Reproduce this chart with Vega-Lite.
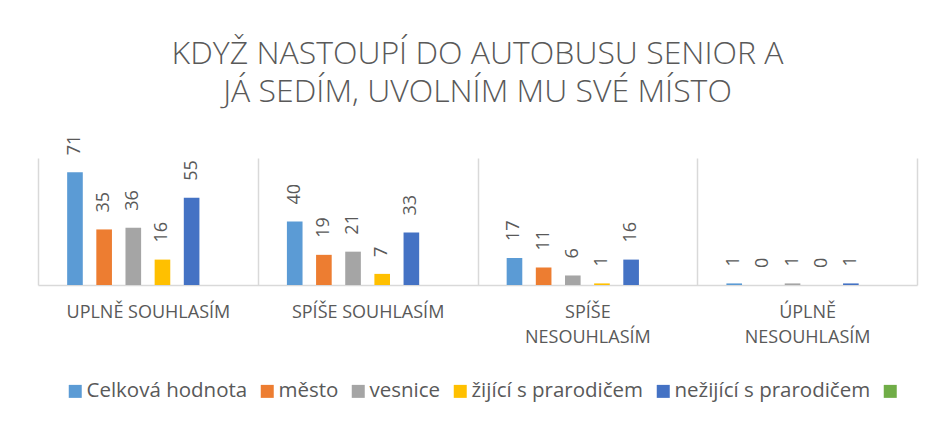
{
  "$schema": "https://vega.github.io/schema/vega-lite/v6.json",
  "width": 879,
  "height": 127,
  "autosize": {"type": "none"},
  "padding": {"left": 38, "top": 158, "right": 14, "bottom": 136},
  "background": "white",
  "config": {
    "view": {"stroke": null},
    "font": "Open Sans"
  },
  "title": {
    "text": ["KDYŽ NASTOUPÍ DO AUTOBUSU SENIOR A", "JÁ SEDÍM, UVOLNÍM MU SVÉ MÍSTO"],
    "font": "Open Sans",
    "fontSize": 32,
    "fontWeight": 300,
    "lineHeight": 38,
    "color": "#595959",
    "anchor": "middle",
    "offset": 26
  },
  "data": {
    "values": [
      {"kategorie": "UPLNĚ SOUHLASÍM", "skupina": "Celková hodnota", "pocet": 71},
      {"kategorie": "UPLNĚ SOUHLASÍM", "skupina": "město", "pocet": 35},
      {"kategorie": "UPLNĚ SOUHLASÍM", "skupina": "vesnice", "pocet": 36},
      {"kategorie": "UPLNĚ SOUHLASÍM", "skupina": "žijící s prarodičem", "pocet": 16},
      {"kategorie": "UPLNĚ SOUHLASÍM", "skupina": "nežijící s prarodičem", "pocet": 55},
      {"kategorie": "SPÍŠE SOUHLASÍM", "skupina": "Celková hodnota", "pocet": 40},
      {"kategorie": "SPÍŠE SOUHLASÍM", "skupina": "město", "pocet": 19},
      {"kategorie": "SPÍŠE SOUHLASÍM", "skupina": "vesnice", "pocet": 21},
      {"kategorie": "SPÍŠE SOUHLASÍM", "skupina": "žijící s prarodičem", "pocet": 7},
      {"kategorie": "SPÍŠE SOUHLASÍM", "skupina": "nežijící s prarodičem", "pocet": 33},
      {"kategorie": "SPÍŠE NESOUHLASÍM", "skupina": "Celková hodnota", "pocet": 17},
      {"kategorie": "SPÍŠE NESOUHLASÍM", "skupina": "město", "pocet": 11},
      {"kategorie": "SPÍŠE NESOUHLASÍM", "skupina": "vesnice", "pocet": 6},
      {"kategorie": "SPÍŠE NESOUHLASÍM", "skupina": "žijící s prarodičem", "pocet": 1},
      {"kategorie": "SPÍŠE NESOUHLASÍM", "skupina": "nežijící s prarodičem", "pocet": 16},
      {"kategorie": "ÚPLNĚ NESOUHLASÍM", "skupina": "Celková hodnota", "pocet": 1},
      {"kategorie": "ÚPLNĚ NESOUHLASÍM", "skupina": "město", "pocet": 0},
      {"kategorie": "ÚPLNĚ NESOUHLASÍM", "skupina": "vesnice", "pocet": 1},
      {"kategorie": "ÚPLNĚ NESOUHLASÍM", "skupina": "žijící s prarodičem", "pocet": 0},
      {"kategorie": "ÚPLNĚ NESOUHLASÍM", "skupina": "nežijící s prarodičem", "pocet": 1}
    ]
  },
  "encoding": {
    "x": {
      "field": "kategorie",
      "type": "nominal",
      "scale": {
        "domain": ["UPLNĚ SOUHLASÍM", "SPÍŠE SOUHLASÍM", "SPÍŠE NESOUHLASÍM", "ÚPLNĚ NESOUHLASÍM"],
        "paddingInner": 0,
        "paddingOuter": 0
      },
      "axis": {
        "title": null,
        "labelAngle": 0,
        "labelFont": "Open Sans",
        "labelFontSize": 18,
        "labelColor": "#595959",
        "labelPadding": 18,
        "labelLineHeight": 25,
        "labelLimit": 300,
        "labelExpr": "length(datum.label) > 16 ? split(datum.label, ' ') : datum.label",
        "ticks": false,
        "grid": true,
        "tickBand": "extent",
        "gridColor": "#d9d9d9",
        "gridWidth": 1.5,
        "domainColor": "#d9d9d9",
        "domainWidth": 1.5
      }
    },
    "xOffset": {
      "field": "skupina",
      "type": "nominal",
      "scale": {
        "domain": ["Celková hodnota", "město", "vesnice", "žijící s prarodičem", "nežijící s prarodičem", ""],
        "paddingInner": 0.464,
        "paddingOuter": 1.156
      }
    },
    "y": {
      "field": "pocet",
      "type": "quantitative",
      "scale": {"domain": [0, 80], "nice": false},
      "axis": null
    }
  },
  "layer": [
    {
      "mark": {"type": "bar"},
      "encoding": {
        "color": {
          "field": "skupina",
          "type": "nominal",
          "scale": {
            "domain": ["Celková hodnota", "město", "vesnice", "žijící s prarodičem", "nežijící s prarodičem", ""],
            "range": ["#5B9BD5", "#ED7D31", "#A5A5A5", "#FFC000", "#4472C4", "#70AD47"]
          },
          "legend": {
            "title": null,
            "orient": "none",
            "direction": "horizontal",
            "legendX": 27,
            "legendY": 223,
            "padding": 0,
            "symbolType": "square",
            "symbolSize": 169,
            "symbolStrokeWidth": 0,
            "labelFont": "Open Sans",
            "labelFontSize": 20.5,
            "labelColor": "#595959",
            "labelOffset": 1,
            "columnPadding": 9,
            "labelLimit": 400
          }
        }
      }
    },
    {
      "mark": {
        "type": "text",
        "angle": 270,
        "align": "left",
        "baseline": "middle",
        "dx": 17,
        "font": "Open Sans",
        "fontSize": 18,
        "color": "#595959"
      },
      "encoding": {
        "text": {"field": "pocet", "type": "quantitative"}
      }
    }
  ]
}
